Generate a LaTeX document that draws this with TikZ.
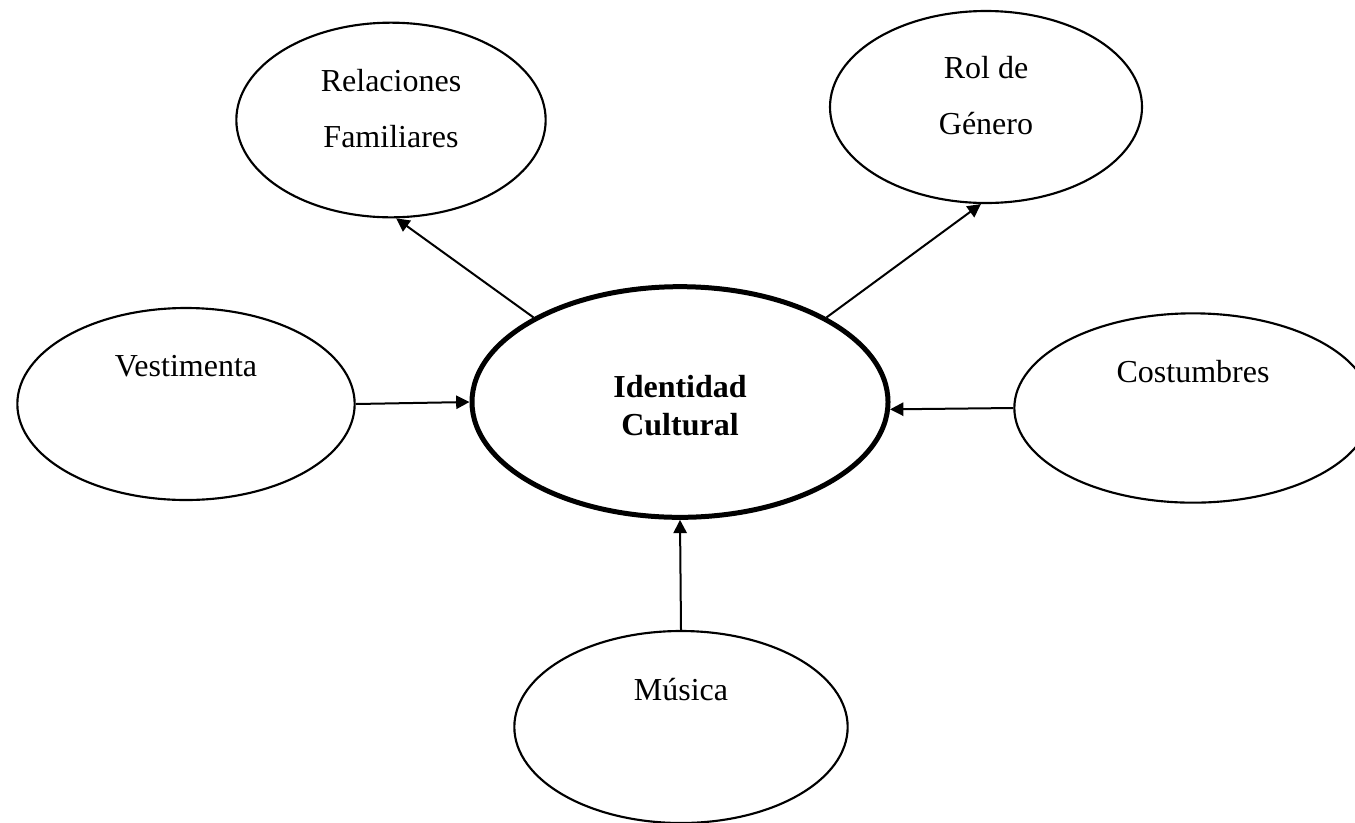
\documentclass[tikz,border=0pt]{standalone}
\usepackage{fontspec}
\setmainfont{Liberation Serif}
\usetikzlibrary{shapes.geometric,arrows.meta}
\begin{document}
\begin{tikzpicture}[x=0.75pt,y=-0.75pt,
    bubble/.style={draw, ellipse, line width=1.6pt, inner sep=0pt},
    core/.style={bubble, line width=3.75pt},
    word/.style={font=\fontsize{24}{42}\selectfont, align=center, inner sep=0pt},
    link/.style={line width=1.5pt, -{Triangle[length=10pt,width=10pt]}}]
    \useasboundingbox (0,0) rectangle (1355,822);
    \node[core, minimum width=312pt, minimum height=173pt] (iden) at (680,402) {};
    \node[bubble, minimum width=232pt, minimum height=146pt] (rel) at (391,120) {};
    \node[bubble, minimum width=234pt, minimum height=144pt] (rol) at (986,107) {};
    \node[bubble, minimum width=253pt, minimum height=144pt] (vest) at (186,404) {};
    \node[bubble, minimum width=268pt, minimum height=142pt] (cost) at (1193,408) {};
    \node[bubble, minimum width=250pt, minimum height=144pt] (mus) at (681,727) {};
    \node[word] (reltxt) at ([yshift=8.25pt]rel.center) {Relaciones\\Familiares};
    \node[word] (roltxt) at ([yshift=8.25pt]rol.center) {Rol de\\Género};
    \node[word, font=\fontsize{24}{28.5}\selectfont\bfseries] (identxt) at ([yshift=-3pt]iden.center) {Identidad\\Cultural};
    \node[word] (vesttxt) at ([yshift=28.5pt]vest.center) {Vestimenta};
    \node[word] (costtxt) at ([yshift=27.4pt]cost.center) {Costumbres};
    \node[word] (mustxt) at ([yshift=27.75pt]mus.center) {Música};
    \draw[link] (iden.150) -- (rel.273);
    \draw[link] (iden.30) -- (rol.267);
    \draw[link] (vest.east) -- (iden.west);
    \draw[link] (cost.west) -- (iden.-2);
    \draw[link] (mus.north) -- (iden.south);
\end{tikzpicture}
\end{document}
